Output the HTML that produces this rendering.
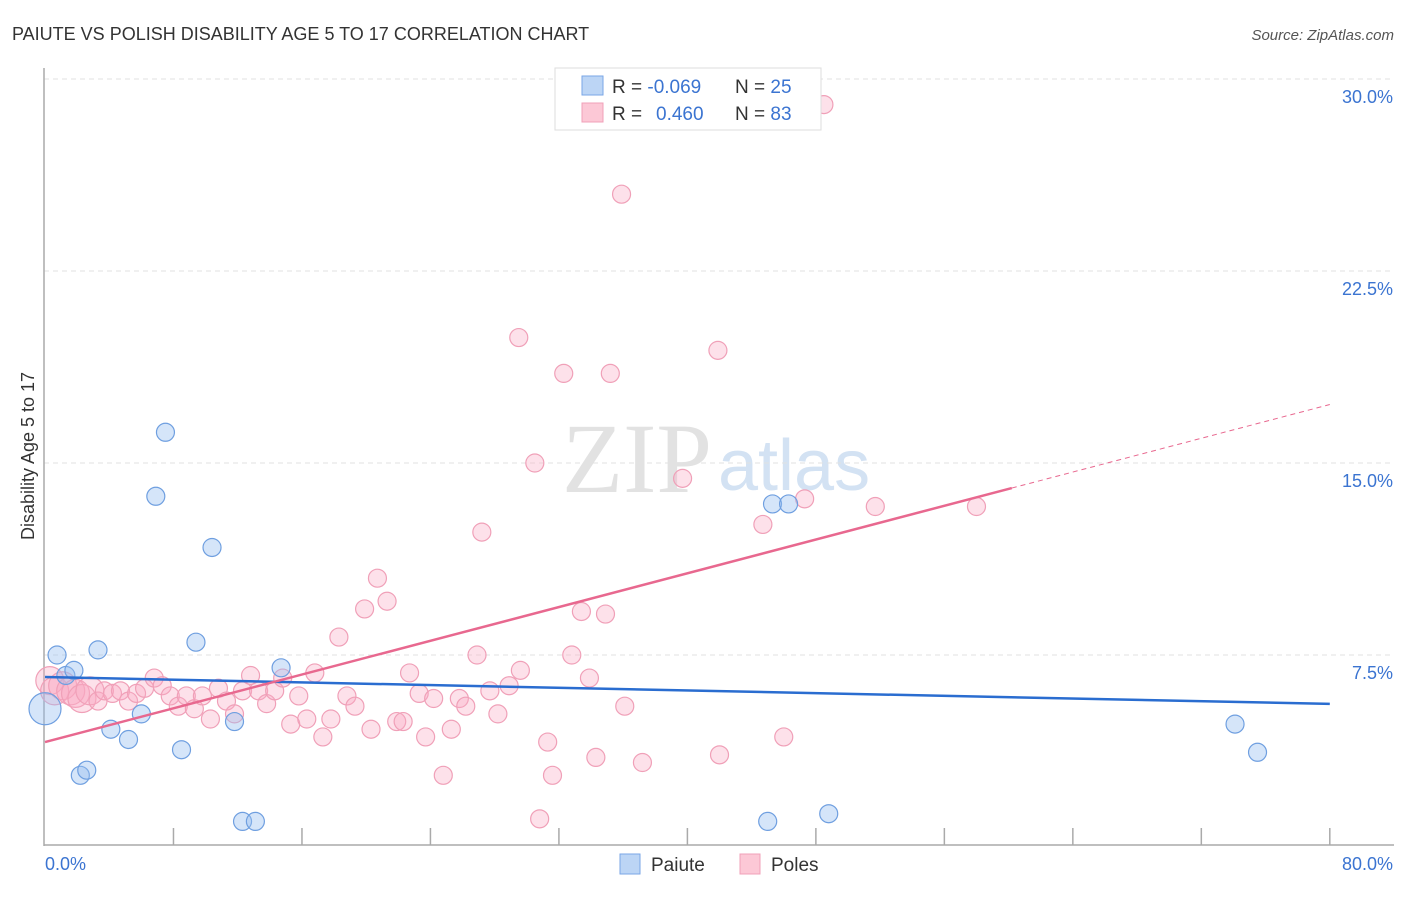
<!DOCTYPE html>
<html><head><meta charset="utf-8"><style>
body{margin:0;background:#fff;font-family:"Liberation Sans",sans-serif;}
</style></head><body>
<svg id="c" width="1406" height="892" xmlns="http://www.w3.org/2000/svg" font-family="Liberation Sans, sans-serif">
<text x="12" y="40" font-size="18" fill="#333">PAIUTE VS POLISH DISABILITY AGE 5 TO 17 CORRELATION CHART</text>
<text x="1394" y="40" font-size="15" fill="#555" font-style="italic" text-anchor="end">Source: ZipAtlas.com</text>
<text transform="translate(34,456) rotate(-90)" font-size="18" fill="#333" text-anchor="middle">Disability Age 5 to 17</text>
<text x="712" y="492" font-size="100" fill="#e2e2e2" style="font-family:'Liberation Serif',serif" text-anchor="end">ZIP</text>
<text x="718" y="490" font-size="72" fill="#d3e2f3">atlas</text>
<g id="grid"></g>
<line x1="44" y1="68" x2="44" y2="846" stroke="#aaa" stroke-width="1.5"/>
<line x1="44" y1="845" x2="1394" y2="845" stroke="#aaa" stroke-width="1.5"/>
<g id="pts"></g>
<g id="lines"></g>
<text x="45" y="870" font-size="18" fill="#3b74d1">0.0%</text>
<text x="1393" y="870" font-size="18" fill="#3b74d1" text-anchor="end">80.0%</text>
<g>
<rect x="555" y="68" width="266" height="62" fill="#fff" stroke="#ddd"/>
<rect x="582" y="76" width="21" height="19" fill="#bcd5f5" stroke="#7aa6e6"/>
<rect x="582" y="103" width="21" height="19" fill="#fcc8d6" stroke="#f0a0b8"/>
<text x="612" y="93" font-size="19" fill="#333">R = <tspan fill="#3b74d1">-0.069</tspan><tspan x="735">N = </tspan><tspan fill="#3b74d1">25</tspan></text>
<text x="612" y="120" font-size="19" fill="#333">R = <tspan x="656" fill="#3b74d1">0.460</tspan><tspan x="735">N = </tspan><tspan fill="#3b74d1">83</tspan></text>
</g>
<g>
<rect x="620" y="854" width="20" height="20" fill="#bcd5f5" stroke="#7aa6e6"/>
<text x="651" y="871" font-size="19" fill="#333">Paiute</text>
<rect x="740" y="854" width="20" height="20" fill="#fcc8d6" stroke="#f0a0b8"/>
<text x="771" y="871" font-size="19" fill="#333">Poles</text>
</g>
</svg>
<script>
const yTicks=[7.5,15,22.5,30];
const yTickLabels=["7.5%","15.0%","22.5%","30.0%"];
const xTicks=[8,16,24,32,40,48,56,64,72,80];
const paiuteX=[0,0.75,1.3,1.8,3.3,2.2,2.6,4.1,5.2,6.0,7.5,6.9,8.5,9.4,10.4,11.8,12.3,13.1,14.7,45.3,46.3,45.0,48.8,74.1,75.5];
const paiuteY=[5.4,7.5,6.7,6.9,7.7,2.8,3.0,4.6,4.2,5.2,16.2,13.7,3.8,8.0,11.7,4.9,1.0,1.0,7.0,13.4,13.4,1.0,1.3,4.8,3.7];
const polesX=[0.3,0.6,1.1,1.6,1.9,2.3,2.8,3.3,3.7,4.2,4.7,5.2,5.7,6.2,6.8,7.3,7.8,8.3,8.8,9.3,9.8,10.3,10.8,11.3,11.8,12.3,12.8,13.3,13.8,14.3,14.8,15.3,15.8,16.3,16.8,17.3,17.8,18.3,18.8,19.3,19.9,20.3,20.7,21.3,21.9,22.3,22.7,23.3,23.7,24.2,24.8,25.3,25.8,26.2,26.9,27.2,27.7,28.2,28.9,29.5,29.6,30.5,30.8,31.3,31.6,32.3,32.8,33.4,33.9,34.3,34.9,35.2,35.9,36.1,37.2,39.7,41.9,42.0,44.7,46.0,47.3,51.7,58.0,48.5];
const polesY=[6.5,6.1,6.3,6.1,6.0,5.8,6.1,5.7,6.1,6.0,6.1,5.7,6.0,6.2,6.6,6.3,5.9,5.5,5.9,5.4,5.9,5.0,6.2,5.7,5.2,6.1,6.7,6.1,5.6,6.1,6.6,4.8,5.9,5.0,6.8,4.3,5.0,8.2,5.9,5.5,9.3,4.6,10.5,9.6,4.9,4.9,6.8,6.0,4.3,5.8,2.8,4.6,5.8,5.5,7.5,12.3,6.1,5.2,6.3,19.9,6.9,15.0,1.1,4.1,2.8,18.5,7.5,9.2,6.6,3.5,9.1,18.5,25.5,5.5,3.3,14.4,19.4,3.6,12.6,4.3,13.6,13.3,13.3,29.0];
const paiuteTrend=[6.64,5.59];
const polesTrend=[4.10,0.1648];
const NS="http://www.w3.org/2000/svg";
const xs=v=>45+v*16.06, ys=v=>847-v*25.6;
function mk(t,a,p){const e=document.createElementNS(NS,t);for(const k in a)e.setAttribute(k,a[k]);p.appendChild(e);return e;}
const grid=document.getElementById('grid');
yTicks.forEach((t,i)=>{
 const l=mk('line',{x1:44,x2:1394,y1:ys(t),y2:ys(t),stroke:'#e2e2e2','stroke-dasharray':'5,4'},grid);
 
 
 const tx=mk('text',{x:1393,y:ys(t)+24,'font-size':18,fill:'#3b74d1','text-anchor':'end'},grid);
 tx.textContent=yTickLabels[i];
 
 
});
xTicks.forEach(t=>{
 const l=mk('line',{x1:xs(t),x2:xs(t),y1:828,y2:845,stroke:'#aaa','stroke-width':1.5},grid);
 
 
});
const pts=document.getElementById('pts');
polesX.forEach((x,i)=>{
 const r=(x<3)?14:9;
 const c=mk('circle',{cx:xs(x),cy:ys(polesY[i]),r:r,fill:'rgba(248,170,195,0.35)',stroke:'#f0a0b8','stroke-width':1.2},pts);
 
 
});
paiuteX.forEach((x,i)=>{
 const r=(i==0)?16:9;
 const c=mk('circle',{cx:xs(x),cy:ys(paiuteY[i]),r:r,fill:'rgba(150,190,240,0.4)',stroke:'#6f9fe0','stroke-width':1.2},pts);
 
 
});
const lg=document.getElementById('lines');
const b=mk('line',{x1:xs(0),y1:ys(paiuteTrend[0]),x2:xs(80),y2:ys(paiuteTrend[1]),stroke:'#2a6dd0','stroke-width':2.5},lg);


const pf=v=>polesTrend[0]+polesTrend[1]*v;
const p1=mk('line',{x1:xs(0),y1:ys(pf(0)),x2:xs(60.2),y2:ys(pf(60.2)),stroke:'#e8688f','stroke-width':2.5},lg);


const p2=mk('line',{x1:xs(60.2),y1:ys(pf(60.2)),x2:xs(80),y2:ys(pf(80)),stroke:'#e8688f','stroke-width':1,'stroke-dasharray':'5,4'},lg);


</script>
</body></html>
